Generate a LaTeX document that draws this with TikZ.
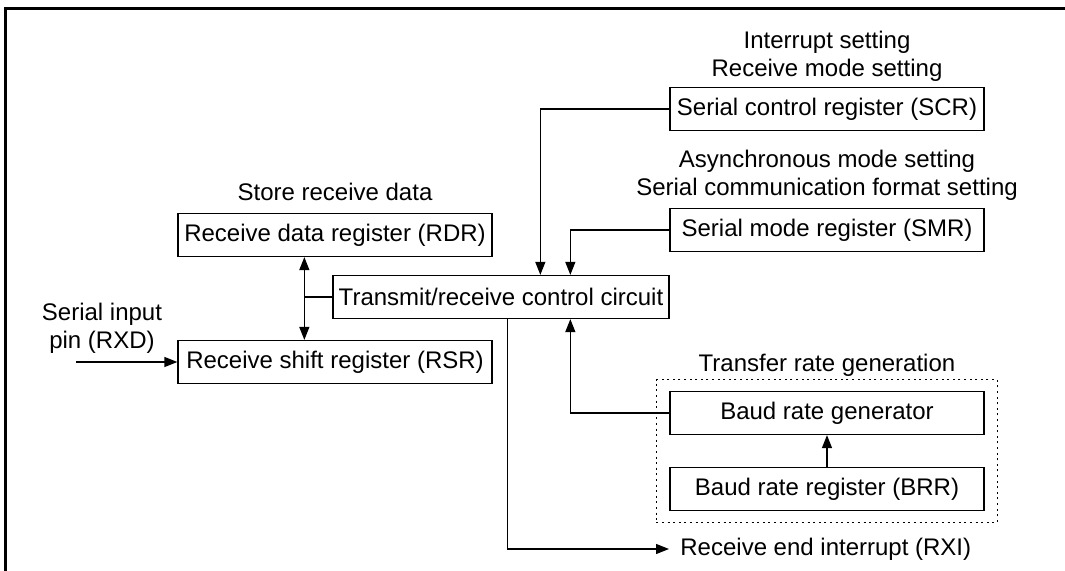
\documentclass[tikz,border=0pt]{standalone}
\usepackage{fontspec}
\setmainfont{Liberation Sans}
\usetikzlibrary{arrows.meta,fit}

\tikzset{
  regbox/.style={draw, line width=0.65pt, minimum width=157pt, minimum height=21.5pt, inner sep=0pt},
  note/.style={align=center, inner sep=0pt},
  tip/.tip={Triangle[length=6.5pt,width=5pt]},
  arr/.style={-tip, line width=0.65pt},
  link/.style={line width=0.65pt}
}

\begin{document}
\begin{tikzpicture}[x=0.5pt, y=-0.5pt, font=\fontsize{12}{14}\selectfont]
    \useasboundingbox (0,0) rectangle (1065,571);
    % Frame
    \draw[line width=1.5pt] (5,571) -- (5,9) -- (1065,9);
    % Registers
    \node[regbox] (scr) at (827,109) {Serial control register (SCR)};
    \node[regbox] (smr) at (827,230) {Serial mode register (SMR)};
    \node[regbox] (rdr) at (335,235) {Receive data register (RDR)};
    \node[regbox, minimum width=168pt] (ctrl) at (501,297) {Transmit/receive control circuit};
    \node[regbox] (rsr) at (335,362) {Receive shift register (RSR)};
    \node[regbox] (gen) at (827,413) {Baud rate generator};
    \node[regbox] (brr) at (827,489) {Baud rate register (BRR)};
    \node[draw, dash pattern=on 1pt off 1.8pt, line width=0.65pt, fit=(gen)(brr), inner xsep=6.5pt, inner ysep=5.5pt] (rate) {};
    % Labels
    \node[note] (scrnote) at (827,56) {Interrupt setting\\Receive mode setting};
    \node[note] (smrnote) at (827,175) {Asynchronous mode setting\\Serial communication format setting};
    \node[note] (rdrnote) at (335,192) {Store receive data};
    \node[note] (rxd) at (102,328) {Serial input\\pin (RXD)};
    \node[note] (ratenote) at (827,365) {Transfer rate generation};
    \node[anchor=west, inner xsep=5.5pt, inner ysep=0pt] (rxi) at (669,549) {Receive end interrupt (RXI)};
    % Connectors
    \coordinate (rxdin) at (76,362);
    \coordinate (bus) at ([xshift=63.5pt]rdr.south west);
    \draw[arr] (rxdin) -- (rsr.west);
    \draw[arr, tip-tip] (bus) -- (bus |- rsr.north);
    \draw[link] (ctrl.west) -- (ctrl.west -| bus);
    \draw[arr] (scr.west) -| ([xshift=104pt]ctrl.north west);
    \draw[arr] (smr.west) -| ([xshift=119pt]ctrl.north west);
    \draw[arr] (gen.west) -| ([xshift=119pt]ctrl.south west);
    \draw[arr] (brr.north) -- (gen.south);
    \draw[arr] ([xshift=87.5pt]ctrl.south west) |- (rxi.west);
\end{tikzpicture}
\end{document}
